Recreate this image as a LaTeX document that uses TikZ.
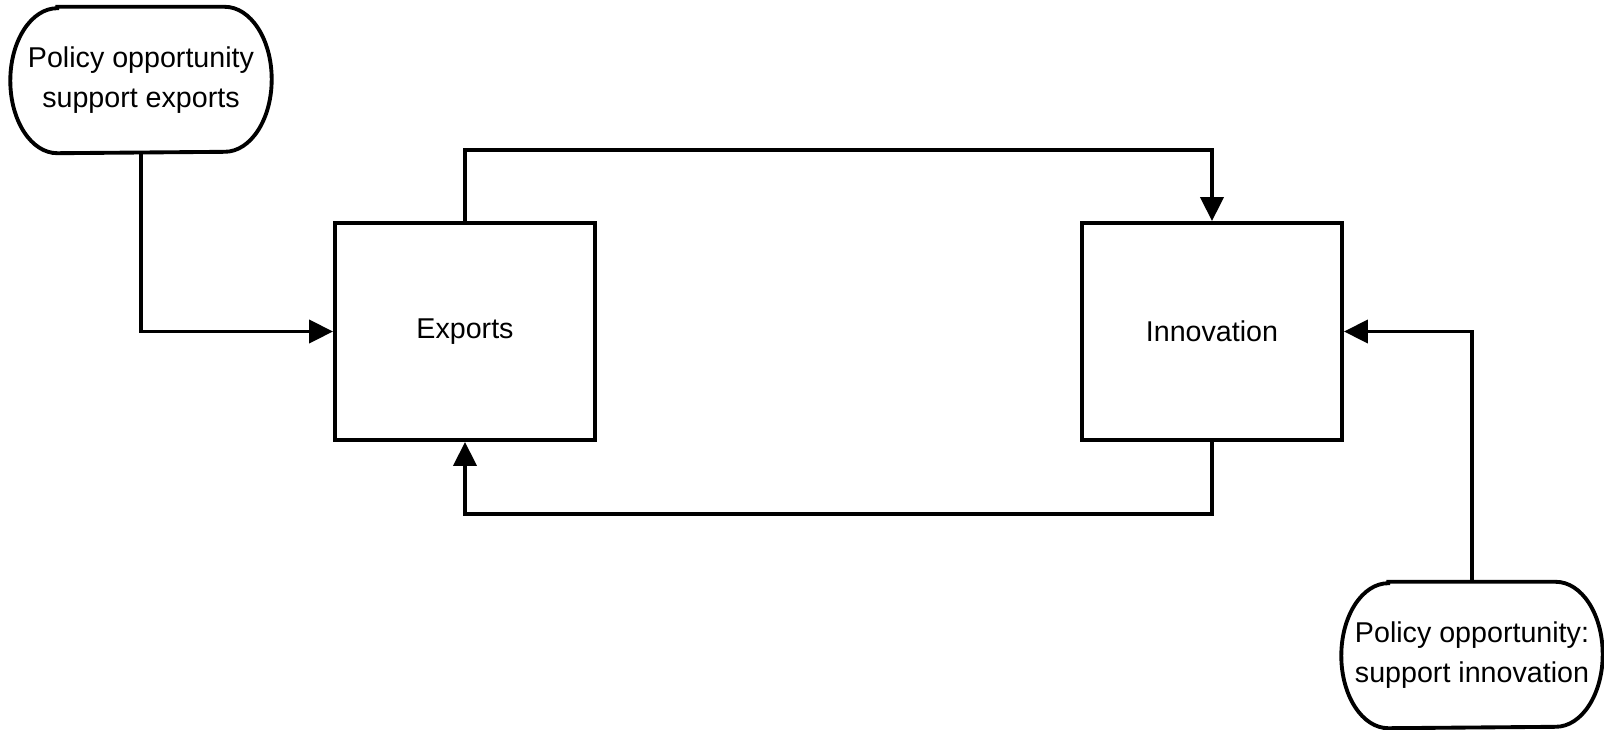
\documentclass[tikz,border=0pt]{standalone}
\usepackage{fontspec}
\setmainfont{Liberation Sans}
\usetikzlibrary{arrows.meta}
\tikzset{
    box/.style={draw, line width=1.1pt, minimum width=2.6cm, minimum height=2.17cm, font=\fontsize{8.15}{11.3}\selectfont},
    policy/.style={align=center, inner sep=0pt, minimum width=2.6cm, minimum height=1.45cm, font=\fontsize{8.15}{11.3}\selectfont},
    link/.style={line width=1.1pt, -{Triangle[length=2.4mm, width=2.3mm]}},
}
\newcommand{\policyoutline}[1]{%
    \draw[line width=1.1pt] ([xshift=4.7mm]#1.north west) -- ([xshift=-4.7mm]#1.north east)
        arc[start angle=90, end angle=-90, x radius=4.7mm, y radius=7.25mm]
        -- ([xshift=4.7mm]#1.south west)
        arc[start angle=270, end angle=90, x radius=4.7mm, y radius=7.25mm] -- cycle;}
\begin{document}
\begin{tikzpicture}%% start picture
            \useasboundingbox (0, 0) rectangle (16.04, 7.29);

                %% the two boxes
                \node[box] (exports) at (4.65, 3.975){Exports};
                \node[box] (innov) at (12.12, 3.975){Innovation};

                %% policy opportunities
                \node[policy] (polexp) at (1.41, 6.49){Policy opportunity\\support exports};
                    \policyoutline{polexp}
                \node[policy] (polinn) at (14.72, 0.74){Policy opportunity:\\support innovation};
                    \policyoutline{polinn}

                %% links
                \draw[link] (polexp.south) |- (exports.west);
                \draw[link] (exports.north) -- ++(0, 0.71) -| (innov.north);
                \draw[link] (innov.south) -- ++(0, -0.72) -| (exports.south);
                \draw[link] (polinn.north) |- (innov.east);

            \end{tikzpicture}
\end{document}
